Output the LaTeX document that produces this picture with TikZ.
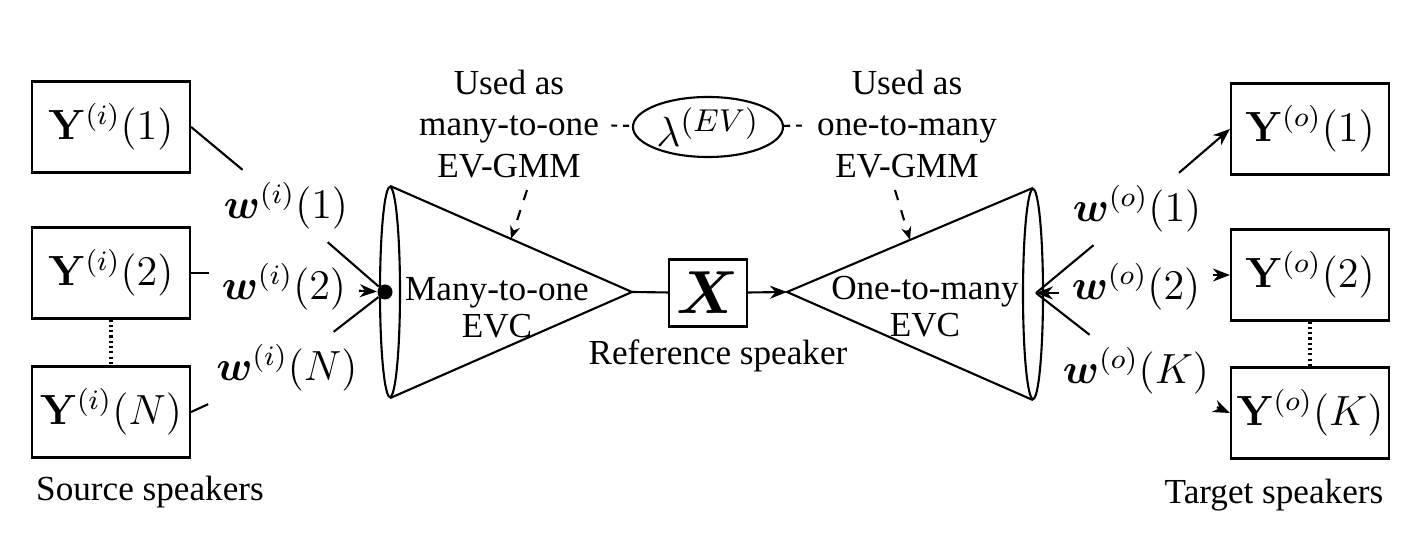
\documentclass[tikz,border=0pt]{standalone}
\usepackage[no-math]{fontspec}
\setmainfont{Liberation Serif}
\usepackage{amsmath}
\usepackage{bm}
\usepackage{tikz}
\usetikzlibrary{shapes, calc, arrows.meta}
\tikzset{
    normal/.style={draw, semithick},
    spk/.style={style=normal, minimum width=15.8mm, minimum height=9.1mm, inner sep=0pt, font=\fontsize{12}{14}\selectfont}, % speaker boxes
    wl/.style={inner sep=1.2mm, font=\fontsize{12}{14}\selectfont}, % weight labels
    cone/.style={style=normal, ellipse, minimum width=2mm, minimum height=21mm, inner sep=0pt}, % open end of a cone
    txt/.style={align=center, font=\fontsize{10}{11.7}\selectfont},
    evc/.style={align=center, font=\fontsize{10}{10.5}\selectfont},
    e/.style={style=normal, ->, >={Stealth[length=1.7mm, width=1.3mm]}},
    be/.style={style=e, dashed, >={Stealth[length=1.3mm, width=1mm]}}, % dashed arrow
    dl/.style={style=normal, dash pattern=on 1.7pt off 1.7pt} % dashed link
}

\begin{document}
\begin{tikzpicture}[x=0.01cm, y=-0.01cm]
        \useasboundingbox (0,0) rectangle (1424,546);

        % source speakers
        \node[spk] (Yi1) at (111,127) {$\mathbf{Y}^{(i)}(1)$};
        \node[spk] (Yi2) at (111,273) {$\mathbf{Y}^{(i)}(2)$};
        \node[spk] (YiN) at (111,412) {$\mathbf{Y}^{(i)}(N)$};
        \node (src) at (150,492) {Source speakers};
        \draw[normal, dash pattern=on 0.6pt off 0.9pt, line width=1pt] (Yi2) -- (YiN);

        \node[wl] (wi1) at (286,206) {$\bm{w}^{(i)}(1)$};
        \node[wl] (wi2) at (284,287) {$\bm{w}^{(i)}(2)$};
        \node[wl] (wiN) at (287,368) {$\bm{w}^{(i)}(N)$};

        % many-to-one cone
        \node[cone] (c1) at (390,292) {};
        \coordinate (a1) at (632,292);
        \draw[normal] (c1.north) -- (a1) -- (c1.south);
        \node[circle, fill, inner sep=0pt, minimum size=1.5mm] (d1) at (385,292) {};
        \node[evc] (evc1) at (497,308) {Many-to-one\\EVC};

        \draw[normal] (Yi1.east) -- (wi1) (wi1) -- (d1);
        \draw[normal] (Yi2.east) -- (Yi2.east -| wi2.west);
        \draw[e] (wi2) -- (d1);
        \draw[normal] (YiN.east) -- (wiN) (wiN) -- (d1);

        % reference speaker
        \node[style=normal, minimum width=7.8mm, minimum height=6.7mm, inner sep=0pt, font=\fontsize{17}{20}\selectfont] (X) at (708,293) {$\bm{X}$};
        \node (ref) at (718,356) {Reference speaker};

        % one-to-many cone
        \coordinate (a2) at (787,292);
        \node[cone] (c2) at (1033,294) {};
        \draw[normal] (c2.north) -- (a2) -- (c2.south);
        \node[evc] (evc2) at (925,307) {One-to-many\\EVC};
        \coordinate (d2) at (1036,293);

        \draw[normal] (a1) -- (X);
        \draw[e] (X) -- (a2);

        % eigenvoice GMM
        \node[style=normal, ellipse, minimum width=15mm, minimum height=6mm, inner sep=0pt, font=\fontsize{13}{15}\selectfont] (lam) at (708,127) {$\lambda^{(EV)}$};
        \node[txt] (useL) at (509,124) {Used as\\many-to-one\\EV-GMM};
        \node[txt] (useR) at (907,124) {Used as\\one-to-many\\EV-GMM};
        \draw[dl] (useL) -- (lam) (lam) -- (useR);
        \coordinate (h1) at ($(c1.north)!0.5!(a1)$);
        \coordinate (h2) at ($(a2)!0.5!(c2.north)$);
        \draw[be] ([xshift=1.8mm]useL.south) -- (h1);
        \draw[be] ([xshift=-1.2mm]useR.south) -- (h2);

        % target speakers
        \node[wl] (wo1) at (1137,209) {$\bm{w}^{(o)}(1)$};
        \node[wl] (wo2) at (1136,287) {$\bm{w}^{(o)}(2)$};
        \node[wl] (woK) at (1136,371) {$\bm{w}^{(o)}(K)$};
        \node[spk] (Yo1) at (1310,129) {$\mathbf{Y}^{(o)}(1)$};
        \node[spk] (Yo2) at (1310,275) {$\mathbf{Y}^{(o)}(2)$};
        \node[spk] (YoK) at (1310,413) {$\mathbf{Y}^{(o)}(K)$};
        \node (tgt) at (1274,495) {Target speakers};
        \draw[normal, dash pattern=on 0.6pt off 0.9pt, line width=1pt] (Yo2) -- (YoK);

        \draw[normal] (d2) -- (wo1) (d2) -- (woK);
        \draw[e] (d2 -| wo2.west) -- (d2);
        \draw[e] (wo1) -- (Yo1.west);
        \draw[e] (Yo2.west -| wo2.east) -- (Yo2.west);
        \draw[e] (woK) -- (YoK.west);
\end{tikzpicture}
\end{document}
